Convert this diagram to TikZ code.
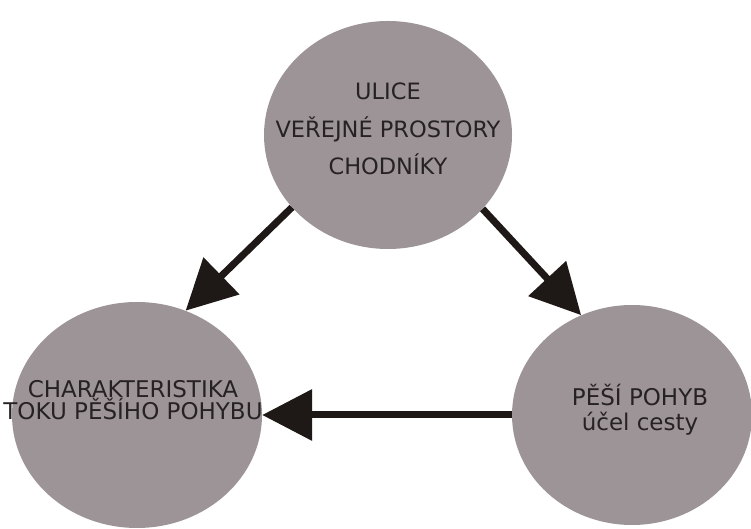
\documentclass[tikz,border=0pt]{standalone}
\usepackage{fontspec}
\setmainfont{DejaVu Sans}
\usepackage{xcolor}
\usetikzlibrary{arrows.meta,shapes.geometric}
\definecolor{vgray}{HTML}{9D9497}
\definecolor{vblack}{HTML}{1E1816}
\definecolor{vtext}{HTML}{262224}

\begin{document}
\begin{tikzpicture}[x=1pt, y=1pt,
		bubble/.style={ellipse, fill=vgray, inner sep=0pt},
		txt/.style={align=center, text=vtext, inner sep=0pt},
		flow/.style={color=vblack, line width=7pt, -{Triangle[length=50pt, width=50pt]}}]
		\useasboundingbox (0,0) rectangle (751,529);
		\clip (0,0) rectangle (751,529);
		\node[bubble, minimum width=248pt, minimum height=228pt] (ulice) at (388,394) {};
		\node[bubble, minimum width=250pt, minimum height=226pt] (tok) at (137,114) {};
		\node[bubble, minimum width=240pt, minimum height=220pt] (pohyb) at (632,114) {};
		\node[txt, font=\fontsize{22.5}{37.5}\selectfont] (uliceText) at (388,400) {ULICE\\VEŘEJNÉ PROSTORY\\CHODNÍKY};
		\node[txt, font=\fontsize{23}{22}\selectfont] (tokText) at (133,129) {CHARAKTERISTIKA\\TOKU PĚŠÍHO POHYBU};
		\node[txt, font=\fontsize{23}{25}\selectfont] (pohybText) at (640,119) {PĚŠÍ POHYB\\účel cesty};
		\draw[flow] (ulice.217) -- (tok.65);
		\draw[flow] (ulice.322) -- (pohyb.117);
		\draw[flow] (pohyb.west) -- (tok.east);
	\end{tikzpicture}
\end{document}
